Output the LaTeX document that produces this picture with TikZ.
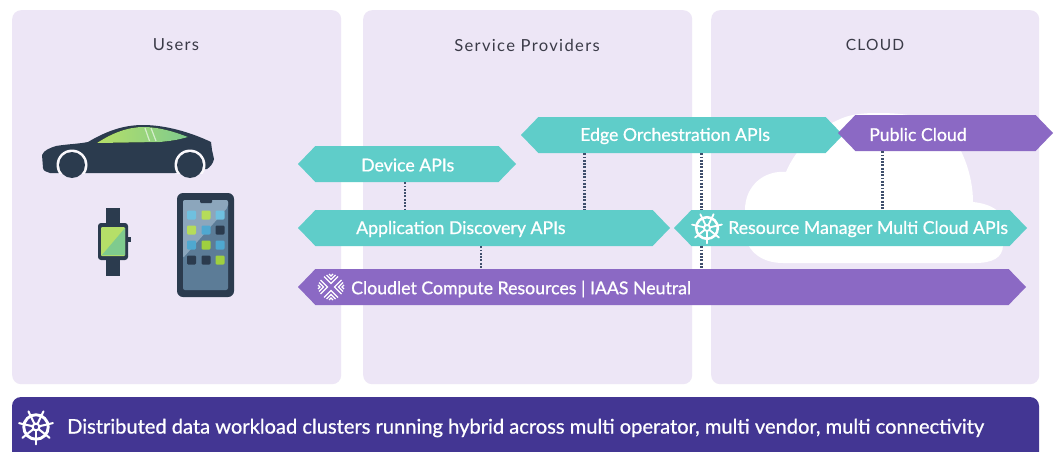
\documentclass[tikz,border=0pt]{standalone}
\usepackage{fontspec}
\setmainfont{Lato}
\usetikzlibrary{shapes.symbols}
\definecolor{panelc}{HTML}{EDE6F6}
\definecolor{tealc}{HTML}{5FCDC9}
\definecolor{purpc}{HTML}{8B69C4}
\definecolor{barc}{HTML}{433693}
\definecolor{navy}{HTML}{2B3B4E}
\definecolor{dotc}{HTML}{3F4F6C}
\definecolor{titlec}{HTML}{3B3B48}
\definecolor{lime}{HTML}{B5DC5A}
\definecolor{limeb}{HTML}{9FD03F}
\definecolor{skya}{HTML}{6FC0DF}
\definecolor{skyb}{HTML}{4FA8D0}
\definecolor{winl}{HTML}{B5DF68}
\definecolor{winr}{HTML}{7FCB8E}
\definecolor{scrd}{HTML}{5C7C97}
\definecolor{scrl}{HTML}{8CA6BC}
\tikzset{
  panel/.style={fill=panelc,rounded corners=9pt,minimum height=374pt,minimum width=329pt,inner sep=0pt,anchor=north west},
  hexa/.style={shape=signal,signal to=west and east,signal pointer angle=92,inner sep=0pt,minimum height=36pt},
  tealhex/.style={hexa,fill=tealc},
  purphex/.style={hexa,fill=purpc},
  lab/.style={text=white,inner sep=0pt,anchor=west,font=\fontsize{17.7}{20}\selectfont\addfontfeatures{FakeBold=0.8}},
  title/.style={text=titlec,inner sep=0pt,font=\fontsize{16.6}{18}\selectfont\addfontfeatures{LetterSpace=8}},
  dots/.style={draw=dotc,line width=2.2pt,dash pattern=on 1.8pt off 1.5pt},
  helm/.pic={
    \draw[white,line width=#1*0.17pt] (0,0) circle[radius=#1*0.72];
    \draw[white,line width=#1*0.12pt] (0,0) circle[radius=#1*0.2];
    \foreach \a in {90,141.4,192.8,244.2,295.6,347,38.6}{
      \draw[white,line width=#1*0.12pt,line cap=round] (\a:#1*0.2) -- (\a:#1*1.02);
    }
  }
}
\begin{document}
\begin{tikzpicture}[x=1pt,y=-1pt]
\useasboundingbox (0,0) rectangle (1057,452);
\fill[white] (0,0) rectangle (1057,452);
% panels
\node[panel] (users) at (12,10) {};
\node[panel] (sp) at (363,10) {};
\node[panel,minimum width=328pt] (cl) at (711,10) {};
\node[title] (tu) at (176,45) {Users};
\node[title] (ts) at (527,45) {Service Providers};
\node[title,font=\fontsize{15.5}{18}\selectfont\addfontfeatures{LetterSpace=8}] (tc) at (875,45) {CLOUD};
% bottom bar
\fill[barc,rounded corners=9pt] (12,452) -- (12,397) -- (1039,397) -- (1039,452);
\pic at (36,427) {helm=17};
\node[text=white,inner sep=0pt,anchor=west,font=\fontsize{20.1}{23}\selectfont\addfontfeatures{FakeBold=0.8}] (bt) at (67,428) {Distributed data workload clusters running hybrid across multi operator, multi vendor, multi connectivity};
% cloud
\fill[white] (783,263) -- (975,263) .. controls (992,263) and (1003,258) .. (1003,245) -- (1003,222) .. controls (1003,212) and (992,204) .. (973,202) .. controls (973,175) and (962,145) .. (945,128) .. controls (925,114) and (895,113) .. (877,113) .. controls (860,113) and (848,115) .. (838,120) .. controls (815,130) and (795,150) .. (786,172) .. controls (765,170) and (745,185) .. (745,210) -- (745,235) .. controls (748,252) and (762,263) .. (783,263) -- cycle;
% hexagons
\node[tealhex,minimum width=218pt] (dev) at (407,164) {};
\node[tealhex,minimum width=322pt] (edge) at (682,135) {};
\node[purphex,minimum width=215pt] (pub) at (945.5,133) {};
\node[tealhex,minimum width=372pt] (app) at (484,228) {};
\node[tealhex,minimum width=353pt] (res) at (850.5,228) {};
\node[purphex,minimum width=728pt] (clet) at (662,287) {};
% dotted connectors
\coordinate (xa) at (405,0);
\coordinate (xb) at (584.5,0);
\coordinate (xc) at (481,0);
\coordinate (xd) at (701.5,0);
\coordinate (xe) at (882.5,0);
\draw[dots] (dev.south -| xa) -- (app.north -| xa);
\draw[dots] (edge.south -| xb) -- (app.north -| xb);
\draw[dots] (app.south -| xc) -- (clet.north -| xc);
\draw[dots] (edge.south -| xd) -- (res.north -| xd);
\draw[dots] (res.south -| xd) -- (clet.north -| xd);
\draw[dots] (pub.south -| xe) -- (res.north -| xe);
% labels
\node[lab] (l1) at (361,165) {Device APIs};
\node[lab] (l2) at (580,136) {Edge Orchestration APIs};
\node[lab] (l3) at (869,134.5) {Public Cloud};
\node[lab] (l4) at (356,229) {Application Discovery APIs};
\node[lab] (l5) at (728,229) {Resource Manager Multi Cloud APIs};
\node[lab] (l6) at (351,289) {Cloudlet Compute Resources | IAAS Neutral};
\pic at (707,228) {helm=15};
% cloudlet icon
\begin{scope}[shift={(331,287)}]
\foreach \r in {0,90,180,270}{
  \begin{scope}[rotate=\r]
    \draw[white,line width=1.3pt] (-7,-10.5) -- (0,-3.5) -- (7,-10.5);
    \draw[white,line width=1.3pt] (-4.5,-12) -- (0,-7.5) -- (4.5,-12);
    \draw[white,line width=1.3pt] (-2,-13) -- (0,-11) -- (2,-13);
  \end{scope}
}
\end{scope}
% car
\fill[navy] (42,155) .. controls (44,150) and (50,148) .. (56,146) .. controls (68,144) and (78,144) .. (88,142) .. controls (105,132) and (122,125) .. (143,125) .. controls (165,125) and (190,132) .. (211,142) -- (212,150) -- (214,159) .. controls (213,164) and (210,167) .. (207,169) -- (175,173) -- (88,173) -- (50,173) .. controls (47,172) and (43,171) .. (43,168) -- cycle;
\fill[white!70!panelc] (72,165) circle[radius=15.5];
\fill[white!70!panelc] (190,165) circle[radius=15.5];
\fill[panelc] (50,173.5) rectangle (94,182);
\fill[panelc] (168,173.5) rectangle (212,182);
\fill[navy] (72,165) circle[radius=13];
\fill[navy] (190,165) circle[radius=13];
\fill[left color=winl,right color=winr] (97,143) .. controls (112,133) and (128,127) .. (143,127) .. controls (160,127) and (175,132) .. (188,137) .. controls (178,140) and (170,141) .. (160,142) -- cycle;
\draw[white,opacity=.6,line width=1.2pt] (145,128) -- (149.5,141);
\draw[white,opacity=.6,line width=1.2pt] (151,128) -- (156,141);
% watch
\fill[navy] (106,208) rectangle (120,276);
\fill[navy,rounded corners=3pt] (98,223) rectangle (128,260);
\fill[navy] (128,237) rectangle (130.5,242);
\fill[winl,rounded corners=1pt] (101,227) rectangle (125,256);
\fill[winr] (125,228) -- (125,255) -- (102,255) -- cycle;
% phone
\fill[navy,rounded corners=6pt] (177,193) rectangle (234,297);
\fill[scrd,rounded corners=2pt] (183,200) rectangle (228,290);
\fill[scrl,rounded corners=2pt] (183,200) -- (228,200) -- (228,207) -- (183,258) -- cycle;
\fill[navy,rounded corners=1pt] (200,199) rectangle (212,203);
\def\app#1#2#3{\fill[#3,rounded corners=1.2pt] (#1-4.5,#2-4.5) rectangle (#1+4.5,#2+4.5);}
\app{191.5}{215}{skya}\app{206}{215}{lime}\app{220}{215}{skya}
\app{191.5}{230}{lime}\app{206}{230}{skyb}\app{220}{230}{navy}
\app{191.5}{245}{skyb}\app{206}{245}{limeb}\app{220}{245}{skyb}
\app{191.5}{260}{navy}\app{206}{260}{navy}\app{220}{260}{limeb}
\end{tikzpicture}
\end{document}
